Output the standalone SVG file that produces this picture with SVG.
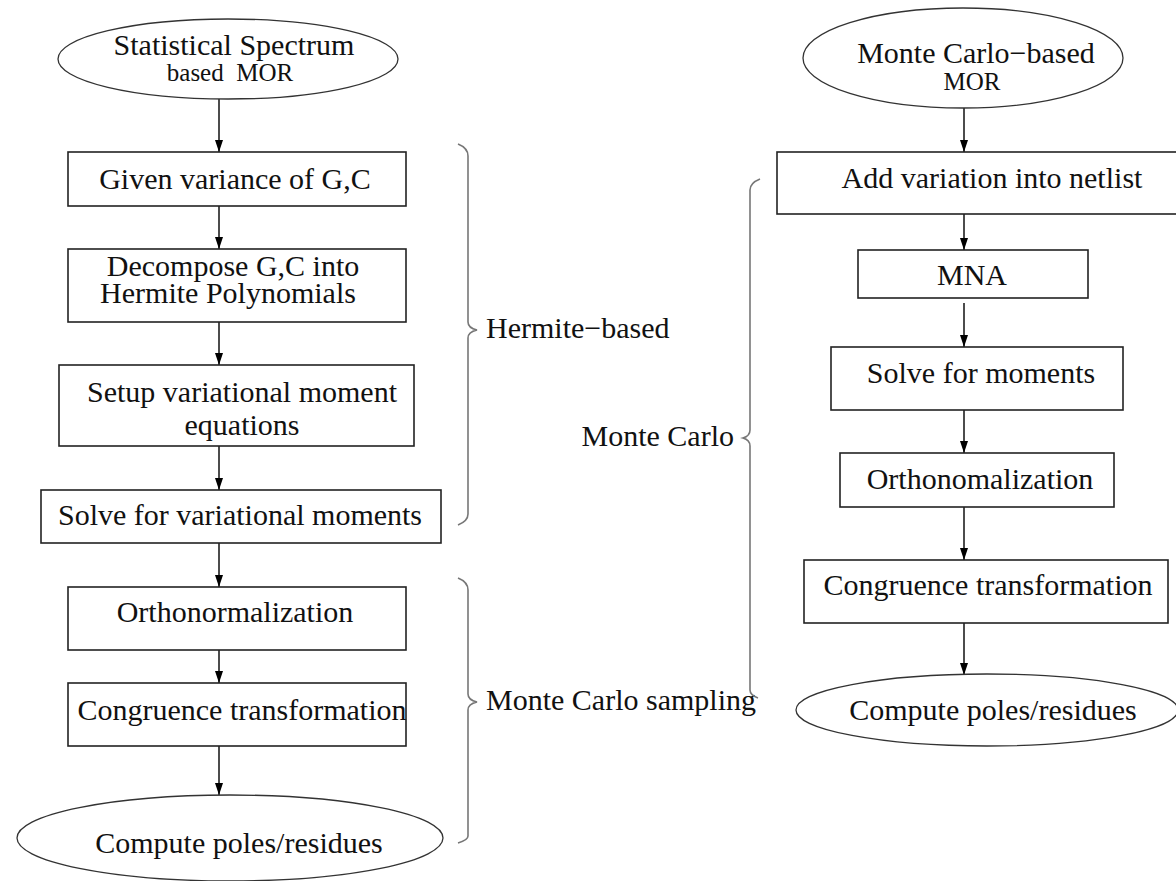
<svg xmlns="http://www.w3.org/2000/svg" width="1176" height="881" viewBox="0 0 1176 881">
<defs>
<marker id="ah" markerUnits="userSpaceOnUse" markerWidth="12" markerHeight="10" refX="12" refY="4" orient="auto">
<path d="M0,0 L12,4 L0,8 Z" fill="#000"/>
</marker>
<style>
.box{fill:#fff;stroke:#222;stroke-width:1.6}
.ell{fill:#fff;stroke:#333;stroke-width:1.3}
.t{font-family:"Liberation Serif","Times New Roman",serif;font-size:30px;fill:#111;text-anchor:middle}
.s{font-size:25px}
.l{text-anchor:start}
.e{text-anchor:end}
.conn{stroke:#111;stroke-width:1.5;fill:none;marker-end:url(#ah)}
.br{stroke:#777;stroke-width:1.6;fill:none}
</style>
</defs>
<rect width="1176" height="881" fill="#fff"/>

<g id="connectors">
<line class="conn" x1="219" y1="99" x2="219" y2="152"/>
<line class="conn" x1="219" y1="206" x2="219" y2="249"/>
<line class="conn" x1="219" y1="322" x2="219" y2="365"/>
<line class="conn" x1="219" y1="446" x2="219" y2="490"/>
<line class="conn" x1="219" y1="543" x2="219" y2="587"/>
<line class="conn" x1="219" y1="650" x2="219" y2="683"/>
<line class="conn" x1="219" y1="746" x2="219" y2="795"/>
<line class="conn" x1="964" y1="108" x2="964" y2="152"/>
<line class="conn" x1="964" y1="214" x2="964" y2="250"/>
<line class="conn" x1="964" y1="303" x2="964" y2="347"/>
<line class="conn" x1="964" y1="410" x2="964" y2="453"/>
<line class="conn" x1="964" y1="507" x2="964" y2="560"/>
<line class="conn" x1="964" y1="623" x2="964" y2="675"/>
</g>

<g id="n-start-left">
<ellipse class="ell" cx="228" cy="59" rx="170" ry="40"/>
<text class="t" x="234" y="55">Statistical Spectrum</text>
<text class="t s" x="230" y="81" xml:space="preserve">based  MOR</text>
</g>
<g id="n-given">
<rect class="box" x="68" y="152" width="338" height="54"/>
<text class="t" x="235" y="189">Given variance of G,C</text>
</g>
<g id="n-decompose">
<rect class="box" x="68" y="249" width="338" height="73"/>
<text class="t" x="233" y="276">Decompose G,C into</text>
<text class="t" x="228" y="303">Hermite Polynomials</text>
</g>
<g id="n-setup">
<rect class="box" x="59" y="365" width="355" height="81"/>
<text class="t" x="242" y="402">Setup variational moment</text>
<text class="t" x="242" y="435">equations</text>
</g>
<g id="n-solve-var">
<rect class="box" x="41" y="490" width="400" height="53"/>
<text class="t" x="240" y="525">Solve for variational moments</text>
</g>
<g id="n-ortho-left">
<rect class="box" x="68" y="587" width="338" height="63"/>
<text class="t" x="235" y="622">Orthonormalization</text>
</g>
<g id="n-congr-left">
<rect class="box" x="68" y="683" width="338" height="63"/>
<text class="t" x="242" y="720">Congruence transformation</text>
</g>
<g id="n-poles-left">
<ellipse class="ell" cx="230" cy="838" rx="213" ry="43"/>
<text class="t" x="239" y="853">Compute poles/residues</text>
</g>

<g id="n-start-right">
<ellipse class="ell" cx="963" cy="58" rx="160" ry="50"/>
<text class="t" x="976" y="63">Monte Carlo−based</text>
<text class="t s" x="972" y="90">MOR</text>
</g>
<g id="n-add">
<rect class="box" x="777" y="152" width="400" height="62"/>
<text class="t" x="992" y="188">Add variation into netlist</text>
</g>
<g id="n-mna">
<rect class="box" x="858" y="250" width="230" height="48"/>
<text class="t" x="972" y="285">MNA</text>
</g>
<g id="n-solve-mom">
<rect class="box" x="831" y="347" width="292" height="63"/>
<text class="t" x="981" y="383">Solve for moments</text>
</g>
<g id="n-ortho-right">
<rect class="box" x="840" y="453" width="274" height="54"/>
<text class="t" x="980" y="489">Orthonomalization</text>
</g>
<g id="n-congr-right">
<rect class="box" x="804" y="560" width="364" height="63"/>
<text class="t" x="988" y="595">Congruence transformation</text>
</g>
<g id="n-poles-right">
<ellipse class="ell" cx="987" cy="710" rx="191" ry="36"/>
<text class="t" x="993" y="720">Compute poles/residues</text>
</g>

<g id="brace-hermite">
<path class="br" d="M458,144 Q468,148 468,156 L468,322 Q468,328 477,330 Q468,332 468,338 L468,514 Q468,521 458,525"/>
<text class="t l" x="486" y="338">Hermite−based</text>
</g>
<g id="brace-mcs">
<path class="br" d="M458,578 Q468,582 468,590 L468,694 Q468,700 477,702 Q468,704 468,710 L468,836 Q468,840 458,843"/>
<text class="t l" x="486" y="710">Monte Carlo sampling</text>
</g>
<g id="brace-mc">
<path class="br" d="M760,179 Q750,183 750,190 L750,430 Q750,436 743,438 Q750,440 750,446 L750,690 Q750,695 758,698"/>
<text class="t e" x="734" y="446">Monte Carlo</text>
</g>
</svg>
